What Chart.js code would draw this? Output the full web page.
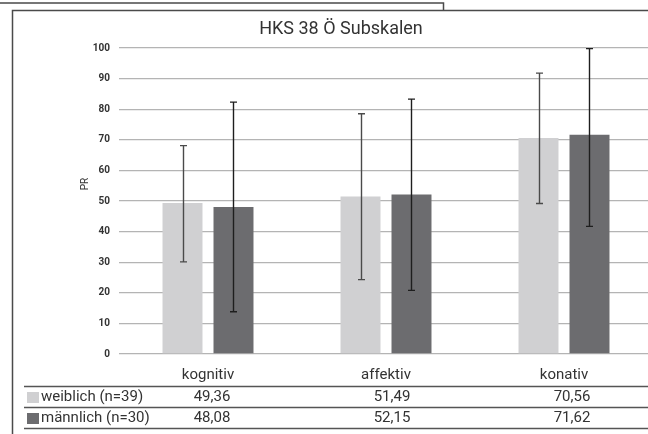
<!DOCTYPE html>
<html>
<head>
<meta charset="utf-8">
<script src="https://cdn.jsdelivr.net/npm/chart.js@4.4.1/dist/chart.umd.min.js"></script>
<style>
  html, body { margin: 0; padding: 0; background: #fff; overflow: hidden; }
  #wrap { position: absolute; left: 0; top: 0; width: 680px; height: 434px; }
</style>
</head>
<body>
<div id="wrap"><canvas id="chart" width="680" height="434"></canvas></div>
<script>
const title = "HKS 38 Ö Subskalen";
const axisTitle = "PR";
const categories = ["kognitiv", "affektiv", "konativ"];
const seriesNames = ["weiblich (n=39)", "männlich (n=30)"];
const weiblich = [49.36, 51.49, 70.56];
const maennlich = [48.08, 52.15, 71.62];
// error bar ends
const weiblichLow = [30.1, 24.3, 49.2];
const weiblichHigh = [68.1, 78.5, 91.8];
const maennlichLow = [13.8, 20.8, 41.7];
const maennlichHigh = [82.3, 83.3, 99.8];
const yTicks = [0, 10, 20, 30, 40, 50, 60, 70, 80, 90, 100];

const colours = ["#d0d0d2", "#6c6c6f"];
const whiskerColours = ["#4a4a4a", "#1e1e1e"];
const FONT = "Roboto, 'Open Sans', sans-serif";

const fmt = (v) => v.toFixed(2).replace(".", ",");

const frame = {
  id: "frame",
  afterDraw(chart) {
    const ctx = chart.ctx;
    const W = chart.width;
    ctx.save();
    ctx.strokeStyle = "#4a4a4a";
    ctx.lineWidth = 1.5;
    ctx.beginPath();
    // outer chart border (cropped)
    ctx.moveTo(12.5, 434);
    ctx.lineTo(12.5, 10.5);
    ctx.lineTo(W, 10.5);
    // bits of the page around it
    ctx.moveTo(0, 3);
    ctx.lineTo(443.5, 3);
    ctx.lineTo(443.5, 10);
    ctx.stroke();
    // chart title
    ctx.fillStyle = "#333";
    ctx.font = "18px " + FONT;
    ctx.textAlign = "center";
    ctx.textBaseline = "middle";
    ctx.fillText(title, 341, 29);
    ctx.restore();
  },
};

const errorBars = {
  id: "errorBars",
  afterDraw(chart) {
    const ctx = chart.ctx;
    const y = chart.scales.y;
    const lows = [weiblichLow, maennlichLow];
    const highs = [weiblichHigh, maennlichHigh];
    ctx.save();
    ctx.lineWidth = 1.4;
    chart.data.datasets.forEach((ds, i) => {
      const meta = chart.getDatasetMeta(i);
      ctx.strokeStyle = whiskerColours[i];
      meta.data.forEach((bar, j) => {
        const x = Math.round(bar.x) + 0.5;
        const yLo = y.getPixelForValue(lows[i][j]);
        const yHi = y.getPixelForValue(highs[i][j]);
        ctx.beginPath();
        ctx.moveTo(x, yLo);
        ctx.lineTo(x, yHi);
        ctx.moveTo(x - 3.5, yLo);
        ctx.lineTo(x + 3.5, yLo);
        ctx.moveTo(x - 3.5, yHi);
        ctx.lineTo(x + 3.5, yHi);
        ctx.stroke();
      });
    });
    ctx.restore();
  },
};

const dataTable = {
  id: "dataTable",
  afterDraw(chart) {
    const ctx = chart.ctx;
    const W = chart.width;
    const x = chart.scales.x;
    const rows = [weiblich, maennlich];
    ctx.save();
    ctx.strokeStyle = "#555";
    ctx.lineWidth = 1.3;
    [386.5, 407.5, 428.5].forEach((ly) => {
      ctx.beginPath();
      ctx.moveTo(24, ly);
      ctx.lineTo(W, ly);
      ctx.stroke();
    });
    ctx.font = "15px " + FONT;
    ctx.textBaseline = "middle";
    rows.forEach((vals, r) => {
      const cy = 397 + r * 21;
      ctx.fillStyle = colours[r];
      ctx.fillRect(27, cy - 5, 12, 11);
      ctx.fillStyle = "#333";
      ctx.textAlign = "left";
      ctx.fillText(seriesNames[r], 41, cy);
      ctx.textAlign = "center";
      vals.forEach((v, j) => {
        ctx.fillText(fmt(v), x.getPixelForValue(j) + 4 + j * 2, cy);
      });
    });
    // axis title
    ctx.textAlign = "center";
    ctx.font = "10px " + FONT;
    ctx.translate(85, 184);
    ctx.rotate(-Math.PI / 2);
    ctx.fillText(axisTitle, 0, 0);
    ctx.restore();
  },
};

new Chart(document.getElementById("chart"), {
  type: "bar",
  data: {
    labels: categories,
    datasets: [
      { label: seriesNames[0], data: weiblich, backgroundColor: colours[0] },
      { label: seriesNames[1], data: maennlich, backgroundColor: colours[1] },
    ],
  },
  options: {
    responsive: false,
    animation: false,
    devicePixelRatio: 1,
    categoryPercentage: 0.573,
    barPercentage: 0.784,
    layout: { padding: { left: 0, right: 27, top: 48, bottom: 0 } },
    plugins: {
      legend: { display: false },
      tooltip: { enabled: false },
      title: { display: false },
    },
    scales: {
      x: {
        grid: { display: false },
        border: { display: false },
        ticks: {
          color: "#333",
          font: { family: FONT, size: 15 },
          padding: 4,
        },
        afterFit: (s) => { s.height = 80; },
      },
      y: {
        min: 0,
        max: 100,
        z: 1,
        afterBuildTicks: (s) => { s.ticks = yTicks.map((v) => ({ value: v })); },
        afterFit: (s) => { s.width = 119; },
        grid: { color: "#b4b4b4", lineWidth: 1.3, drawTicks: false },
        border: { display: false },
        ticks: {
          color: "#333",
          font: { family: FONT, size: 10, weight: "bold" },
          padding: 9,
        },
      },
    },
  },
  plugins: [frame, errorBars, dataTable],
});
</script>
</body>
</html>
